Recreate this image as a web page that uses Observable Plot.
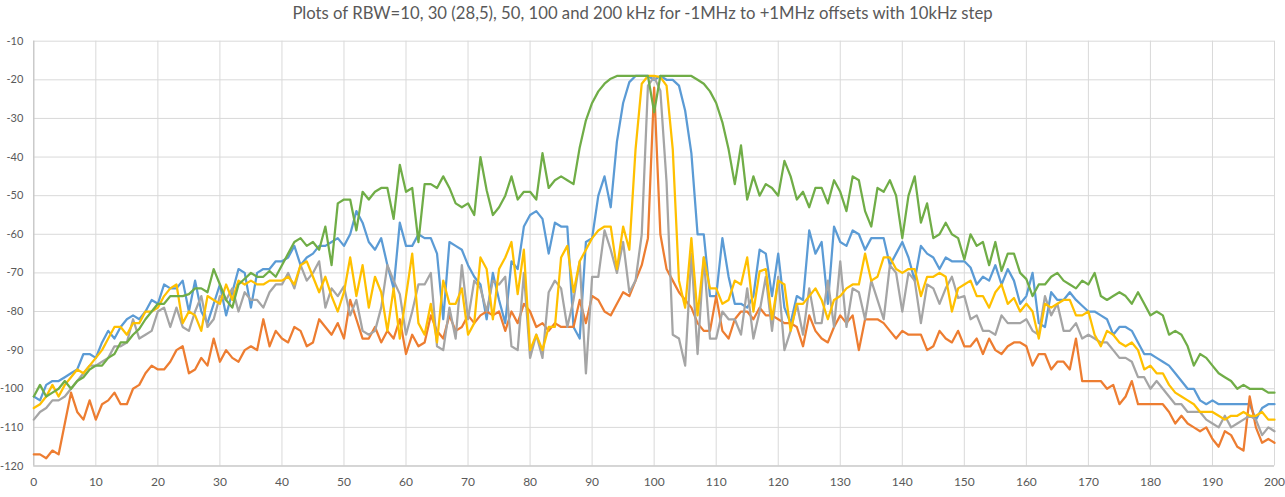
<!DOCTYPE html>
<html>
<head>
<meta charset="utf-8">
<script src="https://cdn.jsdelivr.net/npm/d3@7"></script>
<script src="https://cdn.jsdelivr.net/npm/@observablehq/plot@0.6"></script>
<style>
  html, body { margin: 0; padding: 0; background: #fff; }
  #title { height: 28px; box-sizing: border-box; padding-top: 2.5px; text-align: center;
           font-family: Lato, "Open Sans", sans-serif; font-size: 16.7px; color: #595959; white-space: nowrap; }
</style>
</head>
<body>
<div id="title">Plots of RBW=10, 30 (28,5), 50, 100 and 200 kHz for -1MHz to +1MHz offsets with 10kHz step</div>
<div id="chart"></div>
<script>
const xTicks = [0,10,20,30,40,50,60,70,80,90,100,110,120,130,140,150,160,170,180,190,200];
const yTicks = [-120,-110,-100,-90,-80,-70,-60,-50,-40,-30,-20,-10];

// series, index 0..200 (x = offset step)
const blue = [
-102,-103,-99,-98,-98,-97,-96,-95,-91,-91,-92,-88,-85,-87,-84,-82,-81,-82,-80,-77,
-78,-73,-74,-74,-72,-80,-72,-80,-83,-78,-73,-81,-75,-69,-70,-79,-70,-69,-69,-67,
-67,-66,-63,-68,-66,-65,-63,-63,-62,-61,-63,-60,-54,-57,-62,-64,-61,-68,-74,-57,
-63,-63,-60,-61,-61,-65,-82,-62,-63,-64,-68,-71,-73,-82,-70,-77,-83,-67,-69,-58,
-55,-54,-56,-65,-57,-58,-58,-84,-87,-62,-61,-50,-45,-53,-36,-26,-20.6,-19,-19,-19,
-20,-19,-20,-20,-21.5,-28,-39,-60,-60,-76,-76,-61,-71,-78,-78,-79,-76,-64,-65,-76,
-65,-79,-83,-76,-77,-59,-65,-62,-78,-58,-62,-63,-59,-60,-64,-61,-61,-61,-68,-65,
-62,-66,-72,-63,-65,-66,-69,-66,-67,-67,-67,-68.6,-73,-71,-72,-68,-73,-69,-72,-78,
-76,-70,-83,-84,-75,-77,-77,-75,-77,-78.5,-80,-80,-81,-82,-86,-84,-84,-85,-88,-91,
-91,-92,-93,-94,-96,-98,-100,-100,-103,-104,-103,-104,-104,-104,-104,-104,-104,-108,-105,-104,
-104];
const orange = [
-117,-117,-118,-116,-117,-109,-101,-106,-108,-103,-108,-104,-103,-101,-104,-104,-100,-99,-96,-94,
-95,-95,-93,-90,-89,-96,-95,-92,-94,-87,-93,-90,-92,-93,-90,-89,-90,-82,-89,-85,
-87,-88,-84,-85,-89,-88,-82,-84,-86,-83,-87,-77,-82,-87,-87,-84,-88,-85,-87,-82,
-91,-86,-89,-88,-81,-85,-87,-81,-85,-84,-81,-83,-81,-80,-81,-80,-85,-80,-83,-78,
-80,-84,-83,-85,-83,-84,-84,-84,-77,-83,-76,-77,-80,-81,-78,-75,-76,-72,-68,-61,
-22,-60,-69,-72,-75,-77,-79,-83,-85,-85,-76,-85,-87,-82,-80,-80,-82,-79,-81,-81,
-82,-83,-83,-84,-89,-81,-85,-87,-88,-84,-81,-83,-81,-90,-82,-82,-82,-83,-85,-87,
-85,-86,-86,-86,-90,-89,-85,-87,-88,-85,-89,-89,-87,-91,-87,-90,-91,-89,-88,-88,
-89,-94,-91,-91,-95,-93,-93,-95,-87,-98,-98,-98,-98,-100,-99,-104,-102,-98,-104,-104,
-104,-104,-104,-106,-109,-107,-109,-110,-111,-110,-113,-115,-111,-112,-115,-116,-102,-110,-114,-113,
-114];
const gray = [
-108,-106,-105,-103,-103,-102,-100,-98,-96,-94,-94,-93,-92,-89,-89,-88,-82,-87,-86,-85,
-80,-79,-84,-79,-84,-85,-80,-76,-84,-82,-76,-77,-74,-80,-75,-77,-77,-79,-75,-73,
-73,-70,-74,-68,-72,-70,-67,-79,-74,-76,-73.5,-81,-77,-85,-86,-85,-79,-68,-72,-75.5,
-86,-80,-73,-73,-70,-89,-90,-79,-87,-68,-82,-72,-74,-80,-72,-73,-71,-89,-90,-70,
-92,-86,-92,-75,-72,-74,-84,-77,-67,-96,-71,-71,-59,-64,-70,-62,-75,-72,-60,-21.5,
-19.3,-22.8,-46.5,-86,-87,-94,-65,-91,-66,-87,-87,-80,-82,-82,-86,-74,-87,-80,-71,-85,
-71,-90,-85,-78,-86,-74,-83,-83,-72,-84,-67,-84,-74,-75,-82,-72,-77,-82,-68,-70,
-80,-70,-72,-83,-73,-74,-78,-74,-71,-76.5,-76,-82,-81,-85,-85,-86,-81,-83,-83,-83,
-82,-85,-86,-76,-81,-78,-85,-85,-83,-87,-86,-87,-88,-88,-90,-92,-92,-93,-97,-97,
-100,-98,-100,-102,-104,-104,-106,-106,-106,-108,-109,-110,-107,-110,-109,-108,-107,-108,-112,-110,
-111];
const yellow = [
-105,-104,-102,-99,-102,-99,-97,-95,-96,-94,-92,-90,-87,-84,-84,-86,-83,-83,-80,-80,
-79,-76,-74,-73,-83,-80,-81,-85,-76,-77,-78,-73,-77,-72,-73,-72,-73,-73,-72,-72,
-72,-71,-73,-68,-67,-71,-75,-71,-76,-80,-75,-66,-76,-68,-79,-71,-75,-85,-74,-87,
-76,-65,-83,-86,-78,-88,-72,-78,-78,-74,-86,-83,-66,-69,-82,-69,-66,-62,-75.5,-64,
-90,-86,-90,-84,-84,-66,-63,-75,-67,-64,-61,-59,-58,-58,-69,-58,-64,-38,-21,-19,
-19,-19.3,-21.5,-38,-72,-79,-61,-81,-66,-74,-74,-78,-77,-72,-73,-66,-80,-69.6,-69,-82,
-72,-73,-85,-78,-78,-76,-74,-77,-82,-77,-76,-74,-73,-73,-65,-72,-71,-66,-66,-69,
-70,-69,-69,-76,-71,-71,-70,-71,-80,-74,-73,-72,-76,-76,-79,-75,-73,-78,-76.5,-80,
-78,-80,-87,-78,-79,-78,-77,-77,-81,-81,-80,-86,-89,-85,-86,-88,-89,-88,-90,-95,
-94,-96,-96,-99,-101,-102,-103,-104,-106,-106,-106,-107,-108,-107,-107,-106,-107,-107,-106,-108,
-108];
const green = [
-102,-99,-102,-101,-100,-98,-100,-98,-97,-95,-94,-94,-92,-91,-88,-88,-86,-84.5,-82,-80,
-78,-78,-76,-76,-76,-75.5,-74,-74,-75,-69,-73,-77,-79,-73,-71.5,-70,-71,-71,-69.5,-71,
-68,-65,-62,-61,-63,-62,-64,-58,-68,-52,-51,-51,-59,-49,-51,-49,-48,-48,-56,-42,
-49,-48,-62,-47,-47,-48,-45,-48,-52,-53,-52,-55,-40,-48.6,-55,-53,-50,-45,-51,-49,
-49,-51,-39,-48,-46,-45,-46,-47,-37.5,-30.5,-26,-23,-21,-19.7,-19,-19,-19,-19,-19,-19,
-28.4,-19,-19,-19,-19,-19,-19,-20,-21,-23,-26,-31,-38,-47,-37,-51,-45,-50,-47,-48,
-50,-41,-45,-51,-49,-53,-48,-48,-52,-46,-49,-54,-45,-46,-54,-58,-48,-49,-46,-50,
-61,-50,-45,-57,-52,-61,-60,-57,-60,-61,-66.5,-60,-63,-62,-68,-62,-69.5,-65,-65,-70,
-71.6,-76,-73,-73,-71,-70,-72,-73,-74,-72,-73,-70,-76,-77,-76,-75,-76,-78,-75,-78,
-81,-80,-81,-86,-85,-86,-89,-94,-91,-92,-94,-96,-97,-98,-100,-99,-100,-100,-100,-101,
-101];

const seriesList = [
  {values: blue,   color: "#5B9BD5"},
  {values: orange, color: "#ED7D31"},
  {values: gray,   color: "#A5A5A5"},
  {values: yellow, color: "#FFC000"},
  {values: green,  color: "#70AD47"}
];

const lineMarks = seriesList.map(s =>
  Plot.line(s.values.map((v, i) => ({x: i, y: v})), {
    x: "x", y: "y", stroke: s.color, strokeWidth: 2.25,
    strokeLinejoin: "round", strokeLinecap: "round"
  })
);

const chart = Plot.plot({
  width: 1285,
  height: 469,
  marginTop: 12.7,
  marginBottom: 31.5,
  marginLeft: 33.3,
  marginRight: 11,
  style: {fontFamily: "Lato, 'Open Sans', sans-serif", fontSize: "11px", color: "#595959", background: "#fff"},
  x: {domain: [0, 200]},
  y: {domain: [-120, -10]},
  marks: [
    Plot.gridX(xTicks, {stroke: "#d9d9d9", strokeOpacity: 1, strokeWidth: 1}),
    Plot.gridY(yTicks, {stroke: "#d9d9d9", strokeOpacity: 1, strokeWidth: 1}),
    Plot.ruleX([0], {stroke: "#bfbfbf", strokeWidth: 1}),
    Plot.ruleY([-120], {stroke: "#bfbfbf", strokeWidth: 1}),
    ...lineMarks,
    Plot.axisX(xTicks, {tickSize: 0, tickPadding: 11, tickFormat: d => String(d), label: null, fill: "#595959", fontSize: 12}),
    Plot.axisY(yTicks, {tickSize: 0, tickPadding: 10.5, tickFormat: d => String(d), label: null, fill: "#595959"})
  ]
});
document.getElementById("chart").appendChild(chart);
</script>
</body>
</html>
